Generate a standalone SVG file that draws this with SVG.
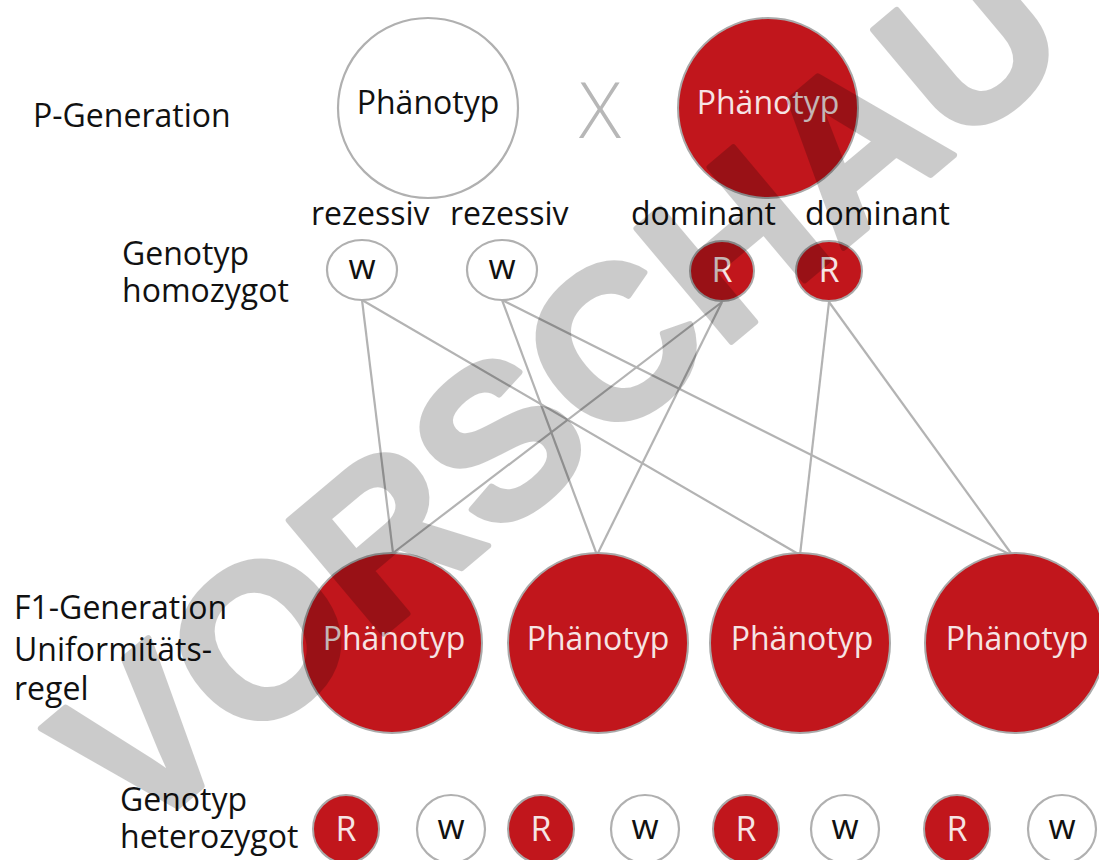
<svg xmlns="http://www.w3.org/2000/svg" width="1099" height="860" viewBox="0 0 1099 860">
<style>
.lbl{font-family:"Open Sans","Noto Sans","DejaVu Sans",sans-serif;font-size:32px;fill:#111}
.ph{font-family:"Open Sans","Noto Sans","DejaVu Sans",sans-serif;font-size:32px;text-anchor:middle}
.white{fill:#fff;stroke:#b0b0b0;stroke-width:2.2}
.red{fill:#c1161c;stroke:#a9a9a9;stroke-width:2}
.tw{fill:#f6e4e4}
.tb{fill:#111}
.al{font-family:"Open Sans","Noto Sans","DejaVu Sans",sans-serif;text-anchor:middle}
.wl{font-size:35px}
.conn line{stroke:#b3b3b3;stroke-width:2.2}
</style>
<rect width="1099" height="860" fill="#fff"/>

<g id="labels">
<text class="lbl" x="33" y="127">P-Generation</text>
<text class="lbl" x="122" y="265">Genotyp</text>
<text class="lbl" x="122" y="302">homozygot</text>
<text class="lbl" x="14" y="619">F1-Generation</text>
<text class="lbl" x="14" y="661">Uniformitäts-</text>
<text class="lbl" x="14" y="700">regel</text>
<text class="lbl" x="120" y="811">Genotyp</text>
<text class="lbl" x="120" y="848">heterozygot</text>
<text class="lbl" x="311" y="225">rezessiv</text>
<text class="lbl" x="450" y="225">rezessiv</text>
<text class="lbl" x="631" y="225">dominant</text>
<text class="lbl" x="805" y="225">dominant</text>
<text x="600" y="138" font-family="Open Sans, Noto Sans, sans-serif" font-weight="300" font-size="78" fill="#b7b7b7" text-anchor="middle">X</text>
</g>

<g class="conn" id="connectors">
<line x1="362" y1="300" x2="393" y2="553"/>
<line x1="362" y1="300" x2="800" y2="555"/>
<line x1="502" y1="300" x2="597" y2="555"/>
<line x1="502" y1="300" x2="1013" y2="556"/>
<line x1="722" y1="302" x2="393" y2="553"/>
<line x1="722" y1="302" x2="597" y2="555"/>
<line x1="829" y1="302" x2="800" y2="555"/>
<line x1="829" y1="302" x2="1013" y2="556"/>
</g>

<g id="p-white"><circle class="white" cx="428" cy="108" r="90"/><text class="ph tb" x="428" y="114">Phänotyp</text></g>
<g id="p-red"><circle class="red" cx="768" cy="108" r="90"/><text class="ph tw" x="768" y="114">Phänotyp</text></g>

<g id="g-w1"><ellipse class="white" cx="362" cy="270" rx="35" ry="30"/><text class="al tb wl" x="362" y="279">w</text></g>
<g id="g-w2"><ellipse class="white" cx="502" cy="270" rx="35" ry="30"/><text class="al tb wl" x="502" y="279">w</text></g>
<g id="g-R1"><ellipse class="red" cx="722" cy="271" rx="32" ry="30"/><text class="al tw" x="722" y="282" font-size="34">R</text></g>
<g id="g-R2"><ellipse class="red" cx="829" cy="271" rx="33" ry="30"/><text class="al tw" x="829" y="282" font-size="34">R</text></g>

<g id="f1-1"><circle class="red" cx="392" cy="643" r="90"/><text class="ph tw" x="394" y="650">Phänotyp</text></g>
<g id="f1-2"><circle class="red" cx="598" cy="643" r="90"/><text class="ph tw" x="598" y="650">Phänotyp</text></g>
<g id="f1-3"><circle class="red" cx="800" cy="643" r="90"/><text class="ph tw" x="802" y="650">Phänotyp</text></g>
<g id="f1-4"><circle class="red" cx="1015" cy="643" r="90"/><text class="ph tw" x="1017" y="650">Phänotyp</text></g>

<g id="h-R1"><ellipse class="red" cx="346" cy="829" rx="33" ry="34"/><text class="al tw" x="346" y="841" font-size="34">R</text></g>
<g id="h-w1"><ellipse class="white" cx="451" cy="829" rx="34" ry="34"/><text class="al tb wl" x="451" y="839">w</text></g>
<g id="h-R2"><ellipse class="red" cx="541" cy="829" rx="33" ry="34"/><text class="al tw" x="541" y="841" font-size="34">R</text></g>
<g id="h-w2"><ellipse class="white" cx="645" cy="829" rx="34" ry="34"/><text class="al tb wl" x="645" y="839">w</text></g>
<g id="h-R3"><ellipse class="red" cx="746" cy="829" rx="33" ry="34"/><text class="al tw" x="746" y="841" font-size="34">R</text></g>
<g id="h-w3"><ellipse class="white" cx="845" cy="829" rx="34" ry="34"/><text class="al tb wl" x="845" y="839">w</text></g>
<g id="h-R4"><ellipse class="red" cx="957" cy="829" rx="33" ry="34"/><text class="al tw" x="957" y="841" font-size="34">R</text></g>
<g id="h-w4"><ellipse class="white" cx="1062" cy="829" rx="34" ry="34"/><text class="al tb wl" x="1062" y="839">w</text></g>

<g id="watermark" opacity="0.2"><text x="0" y="0" transform="translate(606,447) rotate(-40)" font-family="Liberation Sans, Arial, sans-serif" font-weight="bold" font-size="215" fill="#000" stroke="#000" stroke-width="6" stroke-linejoin="round" text-anchor="middle">VORSCHAU</text></g>
</svg>
